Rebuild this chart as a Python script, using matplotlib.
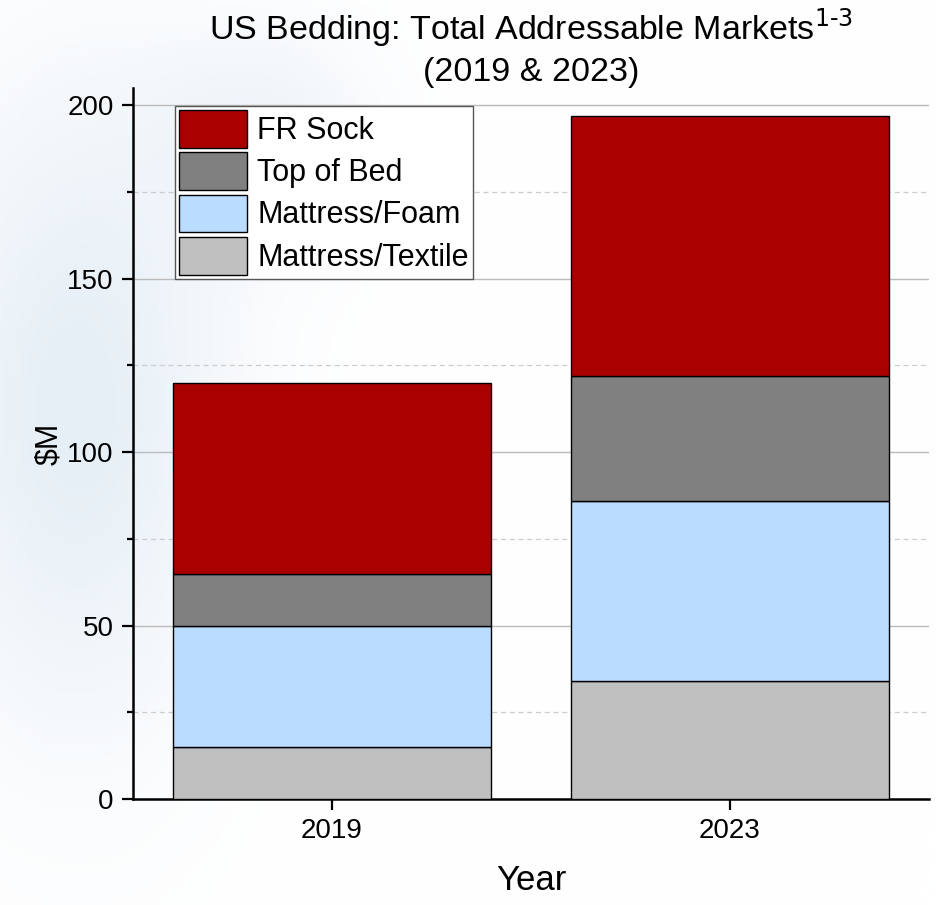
import numpy as np
import matplotlib
matplotlib.use('Agg')
import matplotlib.pyplot as plt
from matplotlib.ticker import MultipleLocator

plt.rcParams['font.family'] = ['Liberation Sans', 'DejaVu Sans']

# Dados
anos = ['2019', '2023']
mattress_textile = [15, 34]
mattress_foam = [35, 52]
top_of_bed = [15, 36]
fr_sock = [55, 75]

camadas = [
    ('Mattress/Textile', mattress_textile, '#C0C0C0'),
    ('Mattress/Foam', mattress_foam, '#B9DCFF'),
    ('Top of Bed', top_of_bed, '#808080'),
    ('FR Sock', fr_sock, '#AA0000'),
]

fig = plt.figure(figsize=(9.36, 9.05), dpi=100)

# marca d'agua suave no fundo
bg = fig.add_axes([0, 0, 1, 1], zorder=-10)
gx, gy = np.meshgrid(np.linspace(0, 1, 200), np.linspace(0, 1, 200))
blob = np.exp(-(((gx - 0.08) / 0.16) ** 2 + ((gy - 0.55) / 0.35) ** 2))
blob += 0.6 * np.exp(-(((gx - 0.28) / 0.12) ** 2 + ((gy - 0.85) / 0.12) ** 2))
blob = np.clip(blob, 0, 1)
img = np.ones((200, 200, 3))
tint = np.array([0.86, 0.91, 0.95])
img = img * (1 - blob[..., None] * 0.7) + tint * blob[..., None] * 0.7
bg.imshow(img, extent=[0, 1, 0, 1], origin='lower', aspect='auto')
bg.axis('off')

ax = fig.add_axes([133 / 936, 1 - 799 / 905, 796 / 936, 711 / 905])
ax.patch.set_alpha(0)

x = np.arange(len(anos))
base = np.zeros(len(anos))
handles = []
for nome, valores, cor in camadas:
    b = ax.bar(x, valores, width=0.8, bottom=base, color=cor,
               edgecolor='black', linewidth=1.0, label=nome, zorder=3)
    handles.append(b)
    base = base + np.array(valores)

ax.set_xlim(-0.5, 1.5)
ax.set_ylim(0, 205)
ax.set_xticks(x)
ax.set_xticklabels(anos)
ax.yaxis.set_major_locator(MultipleLocator(50))
ax.yaxis.set_minor_locator(MultipleLocator(25))

ax.grid(True, which='major', axis='y', color='#BBBBBB', linewidth=1.0, zorder=0)
ax.grid(True, which='minor', axis='y', color='#CCCCCC', linewidth=0.9,
        linestyle=(0, (4, 3)), zorder=0)

for s in ['top', 'right']:
    ax.spines[s].set_visible(False)
for s in ['left', 'bottom']:
    ax.spines[s].set_linewidth(1.8)

ax.tick_params(axis='both', which='major', direction='out', length=8,
               width=1.6, labelsize=20, pad=6)
ax.tick_params(axis='y', which='minor', direction='out', length=4, width=1.6)

ax.set_xlabel('Year', fontsize=25, labelpad=14)
ax.set_ylabel('$M', fontsize=22, labelpad=2)
ax.set_title('US Bedding: Total Addressable Markets$^{1\\text{-}3}$\n(2019 & 2023)',
             fontsize=24.5, pad=-5, linespacing=1.35)

leg = ax.legend(handles[::-1], [c[0] for c in camadas][::-1],
                loc='upper left', bbox_to_anchor=(0.053, 0.975),
                fontsize=22, frameon=True, fancybox=False,
                edgecolor='#555555', framealpha=1, borderpad=0.14,
                labelspacing=0.15, handlelength=2.2, handleheight=1.52,
                handletextpad=0.35, borderaxespad=0)
leg.get_frame().set_linewidth(1.0)

plt.savefig('out.png', dpi=100)
